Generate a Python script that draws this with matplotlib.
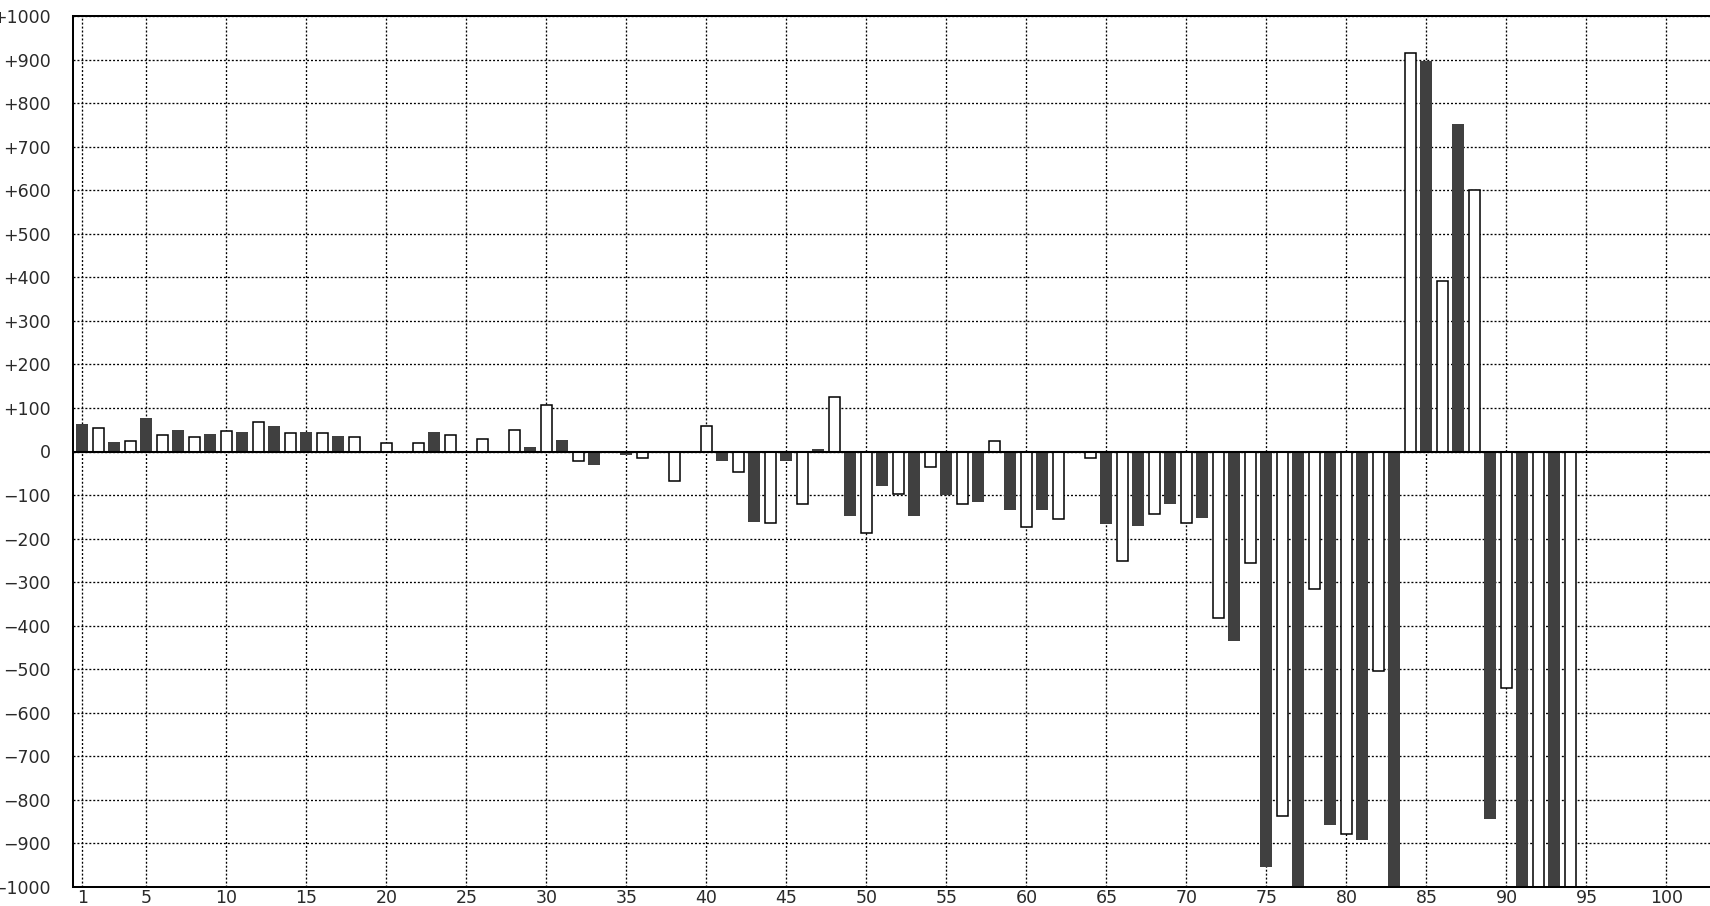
import matplotlib
matplotlib.use("Agg")
import matplotlib.pyplot as plt
from matplotlib.ticker import FixedLocator, FuncFormatter

# ---- data ----
dark_x = [1, 3, 5, 7, 9, 11, 13, 15, 17, 19, 21, 23, 25, 27, 29, 31, 33, 35, 37, 39,
          41, 43, 45, 47, 49, 51, 53, 55, 57, 59, 61, 63, 65, 67, 69, 71, 73, 75, 77,
          79, 81, 83, 85, 87, 89, 91, 93]
dark_values = [64, 21, 78, 50, 40, 45, 59, 45, 35, -3, 0, 45, -3, 0, 11, 26, -32, -7, 0, 0,
               -22, -162, -22, 6, -148, -79, -148, -100, -117, -135, -135, 0, -167, -171,
               -121, -153, -434, -955, -1000, -858, -893, -1000, 897, 752, -843, -1000, -1000]
light_x = [2, 4, 6, 8, 10, 12, 14, 16, 18, 20, 22, 24, 26, 28, 30, 32, 34, 36, 38, 40,
           42, 44, 46, 48, 50, 52, 54, 56, 58, 60, 62, 64, 66, 68, 70, 72, 74, 76, 78,
           80, 82, 84, 86, 88, 90, 92, 94]
light_values = [53, 24, 38, 34, 48, 67, 43, 43, 34, 19, 19, 39, 29, 49, 106, -21, 0, -16, -68, 58,
                -48, -165, -120, 125, -188, -97, -35, -120, 24, -174, -156, -16, -252, -143,
                -165, -382, -256, -838, -315, -879, -505, 915, 392, 600, -542, -1000, -1000]
x_ticks = [1, 5, 10, 15, 20, 25, 30, 35, 40, 45, 50, 55, 60, 65, 70, 75, 80, 85, 90, 95, 100]
y_ticks = list(range(-1000, 1001, 100))

W, H = 1710, 906
fig = plt.figure(figsize=(W / 100, H / 100), dpi=100)
left_px, right_px, top_px, bottom_px = 72.7, 1710, 16, 887
ax = fig.add_axes([left_px / W, (H - bottom_px) / H,
                   (right_px - left_px) / W, (bottom_px - top_px) / H])

ax.bar(dark_x, dark_values, width=0.75, color="#404040", linewidth=0, zorder=2)
ax.bar(light_x, light_values, width=0.72, facecolor="white", edgecolor="black",
       linewidth=1.1, zorder=2)
ax.axhline(0, color="black", linewidth=1.5, zorder=3)

ax.set_xlim(0.3875, 102.72)
ax.set_ylim(-1000, 1000)

ax.xaxis.set_major_locator(FixedLocator(x_ticks))
ax.yaxis.set_major_locator(FixedLocator(y_ticks))


def yfmt(v, pos):
    v = int(round(v))
    if v > 0:
        return f"+{v}"
    if v < 0:
        return f"\u2212{abs(v)}"
    return "0"


ax.yaxis.set_major_formatter(FuncFormatter(yfmt))

ax.grid(True, color="black", linestyle=(0, (1.5, 1.5)), linewidth=0.95, zorder=0)
ax.set_axisbelow(True)

ax.tick_params(axis="both", length=0, labelsize=12.5, labelcolor="#2a2a2a")
ax.tick_params(axis="y", pad=15.8)
ax.tick_params(axis="x", pad=1.5)

for s in ["left", "top", "bottom"]:
    ax.spines[s].set_linewidth(1.45)
    ax.spines[s].set_color("black")
ax.spines["right"].set_visible(False)

fig.savefig("out.png", dpi=100)
